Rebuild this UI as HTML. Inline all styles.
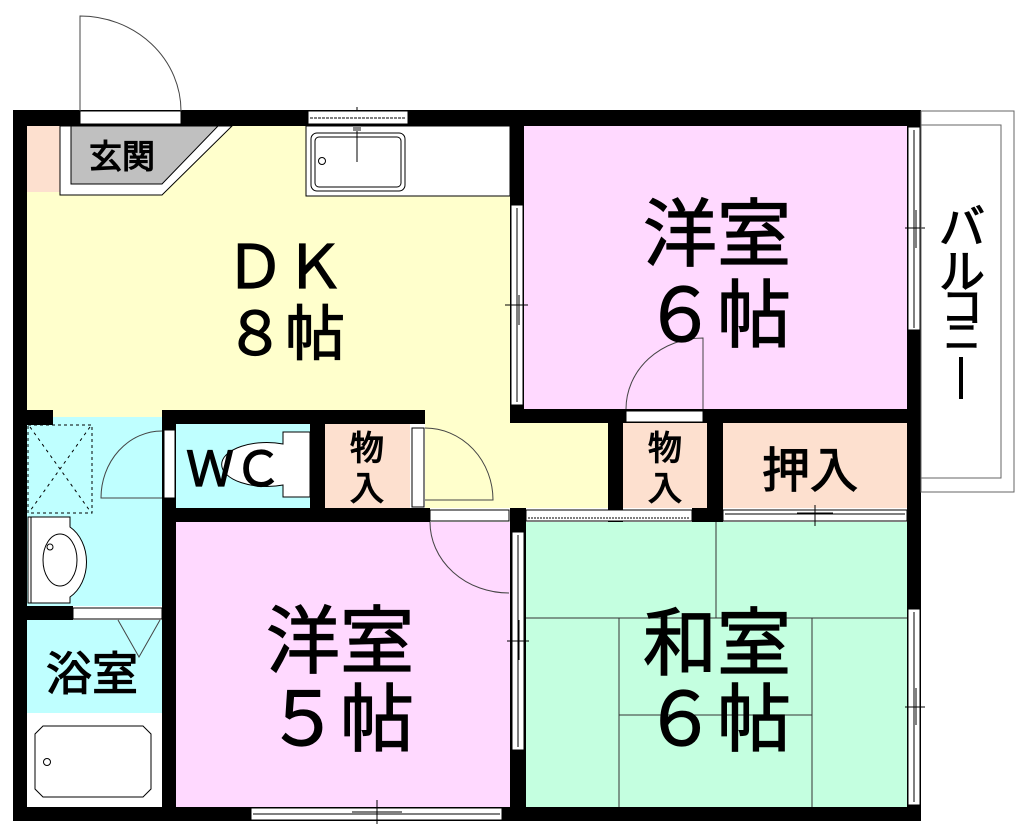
<!DOCTYPE html>
<html><head><meta charset="utf-8"><style>
html,body{margin:0;padding:0;background:#fff;width:1024px;height:837px;overflow:hidden}
svg{display:block}
text{font-family:"Liberation Sans","Noto Sans CJK JP",sans-serif;fill:#000;text-anchor:middle}
</style></head><body>
<svg width="1024" height="837" viewBox="0 0 1024 837" xmlns="http://www.w3.org/2000/svg">
<rect x="27" y="126" width="483" height="291" fill="#ffffcc"/>
<rect x="425" y="410" width="183" height="98" fill="#ffffcc"/>
<rect x="524" y="126" width="383" height="283" fill="#ffd9ff"/>
<rect x="176" y="522" width="334" height="285" fill="#ffd9ff"/>
<rect x="524" y="522" width="383" height="285" fill="#c4ffe0"/>
<rect x="27" y="417" width="135" height="189" fill="#bfffff"/>
<rect x="27" y="620" width="135" height="93" fill="#bfffff"/>
<rect x="27" y="713" width="135" height="94" fill="#fff"/>
<rect x="176" y="424" width="134" height="84" fill="#bfffff"/>
<rect x="325" y="424" width="85" height="84" fill="#fde0cf"/>
<rect x="623" y="423" width="84" height="85" fill="#fde0cf"/>
<rect x="723" y="423" width="184" height="85" fill="#fde0cf"/>
<rect x="27" y="126" width="33" height="66" fill="#fde0cf"/>
<polygon points="60,126 232,126 162,195 60,195" fill="#fff" stroke="#000" stroke-width="1"/>
<polygon points="71,126 218,126 162,184 71,184" fill="#c0c0c0" stroke="#000" stroke-width="1"/>
<rect x="306" y="126" width="204" height="70" fill="#fff" stroke="#000" stroke-width="1"/>
<rect x="311" y="133" width="94" height="58" rx="6" fill="none" stroke="#000" stroke-width="1"/>
<rect x="315" y="137" width="86" height="50" rx="4" fill="none" stroke="#000" stroke-width="1"/>
<circle cx="322" cy="161" r="3.5" fill="none" stroke="#000"/>
<line x1="357" y1="107" x2="357" y2="162" stroke="#000"/>
<rect x="353" y="126" width="8" height="5" fill="#888"/>
<g stroke="#333" stroke-width="1">
<line x1="716" y1="522" x2="716" y2="618"/>
<line x1="524" y1="618" x2="907" y2="618"/>
<line x1="619" y1="618" x2="619" y2="807"/>
<line x1="812" y1="618" x2="812" y2="807"/>
<line x1="619" y1="715" x2="812" y2="715"/>
</g>
<g fill="#000">
<rect x="13" y="110" width="908" height="16"/>
<rect x="13" y="110" width="14" height="711"/>
<rect x="13" y="807" width="908" height="14"/>
<rect x="907" y="110" width="14" height="711"/>
<rect x="510" y="110" width="14" height="313"/>
<rect x="510" y="409" width="411" height="14"/>
<rect x="608" y="409" width="15" height="113"/>
<rect x="707" y="409" width="16" height="113"/>
<rect x="510" y="508" width="16" height="299"/>
<rect x="692" y="508" width="31" height="14"/>
<rect x="162" y="410" width="263" height="14"/>
<rect x="162" y="410" width="14" height="397"/>
<rect x="310" y="410" width="15" height="112"/>
<rect x="162" y="508" width="268" height="14"/>
<rect x="27" y="410" width="26" height="15"/>
<rect x="13" y="606" width="60" height="14"/>
</g>
<g fill="#fff" stroke="#000" stroke-width="1">
<rect x="80" y="111" width="101" height="13"/>
<rect x="308" y="111" width="100" height="13"/>
<rect x="511" y="205" width="12" height="200"/>
<rect x="908" y="127" width="12" height="203"/>
<rect x="908" y="609" width="12" height="196"/>
<rect x="512" y="532" width="12" height="218"/>
<rect x="626" y="411" width="77" height="11"/>
<rect x="526" y="510" width="166" height="11"/>
<rect x="723" y="510" width="184" height="11"/>
<rect x="430" y="510" width="79" height="11"/>
<rect x="164" y="430" width="11" height="68"/>
<rect x="412" y="428" width="12" height="79"/>
<rect x="73" y="608" width="89" height="11"/>
<rect x="251" y="808" width="251" height="12"/>
</g>
<g stroke="#000" stroke-width="1" fill="none">
<line x1="310" y1="118" x2="406" y2="118" stroke-dasharray="3,1"/>
<line x1="517" y1="208" x2="517" y2="402"/>
<line x1="505" y1="305" x2="528" y2="305"/><line x1="519" y1="295" x2="519" y2="325"/>
<line x1="914" y1="130" x2="914" y2="328"/>
<line x1="905" y1="228" x2="925" y2="228"/><line x1="916" y1="210" x2="916" y2="248"/>
<line x1="914" y1="612" x2="914" y2="802"/>
<line x1="905" y1="707" x2="925" y2="707"/><line x1="916" y1="688" x2="916" y2="725"/>
<line x1="518" y1="535" x2="518" y2="747"/>
<line x1="507" y1="641" x2="529" y2="641"/><line x1="519" y1="620" x2="519" y2="660"/>
<line x1="528" y1="518" x2="690" y2="518" stroke-dasharray="2,1"/>
<line x1="725" y1="514" x2="905" y2="514"/>
<line x1="797" y1="513" x2="833" y2="513"/><line x1="815" y1="505" x2="815" y2="526"/>
<line x1="253" y1="814" x2="500" y2="814"/>
<line x1="352" y1="812" x2="402" y2="812"/><line x1="377" y1="800" x2="377" y2="824"/>
<path d="M80,111 L80,16 A101,95 0 0 1 181,111" stroke="#444"/>
<path d="M703,409 L703,338 A77,71 0 0 0 626,409" stroke="#444"/>
<path d="M162,498 L101,498 A61,67 0 0 1 162,431" stroke="#444"/>
<path d="M425,500 L493,500 A68,72 0 0 0 425,428" stroke="#444"/>
<path d="M430,522 A79,71 0 0 0 509,593" stroke="#444"/>
<path d="M118,620 L139,657 L160,620" stroke="#444"/>
<rect x="28" y="425" width="64" height="88" stroke-dasharray="3,3"/>
<line x1="30" y1="427" x2="90" y2="511" stroke-dasharray="3,4"/>
<line x1="90" y1="427" x2="30" y2="511" stroke-dasharray="3,4"/>
<path d="M28,517 L70,517 L70,527 A32,40 0 0 1 70,597 L70,603 L28,603 Z" fill="#fff"/>
<line x1="31" y1="517" x2="31" y2="603"/>
<ellipse cx="60" cy="560" rx="17" ry="26"/>
<circle cx="50" cy="547" r="3"/>
<path d="M43,726 L143,726 L151,734 L151,789 L143,797 L43,797 L35,789 L35,734 Z"/>
<circle cx="47" cy="762" r="3.5"/>
<path d="M283,432 L310,432 L310,497 L283,497 L283,485 A45,22 0 1 1 283,444 Z" fill="#fff"/>
<rect x="921" y="111" width="93" height="381" stroke="#666"/>
<rect x="921" y="125" width="80" height="353" stroke="#666"/>
</g>
<g stroke="#000" stroke-width="1.2">
<text x="122" y="168" font-size="33">玄関</text>
<text x="285" y="288" font-size="60">ＤＫ</text>
<text x="285" y="355" font-size="60">８帖</text>
<text x="717" y="260" font-size="74">洋室</text>
<text x="717" y="341" font-size="74">６帖</text>
<text x="340" y="667" font-size="74">洋室</text>
<text x="340" y="745" font-size="74">５帖</text>
<text x="717" y="669" font-size="74">和室</text>
<text x="717" y="745" font-size="74">６帖</text>
<text x="234" y="486" font-size="48">ＷＣ</text>
<text x="367" y="460" font-size="34">物</text>
<text x="367" y="500" font-size="34">入</text>
<text x="665" y="460" font-size="34">物</text>
<text x="665" y="500" font-size="34">入</text>
<text x="810" y="487" font-size="48">押入</text>
<text x="92" y="690" font-size="46">浴室</text>
<text x="962" y="243" font-size="46">バ</text>
<text x="962" y="288" font-size="46">ル</text>
<text x="962" y="322" font-size="42">コ</text>
<text x="962" y="349" font-size="36">ニ</text>
</g>
<rect x="959" y="357" width="4" height="42" fill="#000"/>
</svg>
</body></html>
